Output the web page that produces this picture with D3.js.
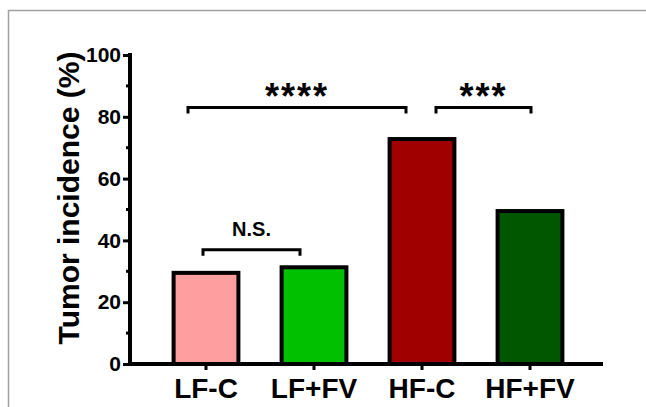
<!DOCTYPE html>
<html>
<head>
<meta charset="utf-8">
<script src="https://cdn.jsdelivr.net/npm/d3@7"></script>
<style>
  html, body { margin: 0; padding: 0; background: #fff; }
  svg text { font-family: "Liberation Sans", Arial, sans-serif; }
</style>
</head>
<body>
<div id="chart"></div>
<script>
const groups = ['LF-C', 'LF+FV', 'HF-C', 'HF+FV'];
const incidence = [29.5, 31.3, 72.8, 49.5];
const barColors = ['#ff9e9e', '#00c000', '#a00000', '#005700'];
const yTicks = [0, 20, 40, 60, 80, 100];
const yMinorTicks = [10, 30, 50, 70, 90];

// significance brackets: [from, to, height (%), label]
const brackets = [
  ['LF-C', 'LF+FV', 37, 'N.S.'],
  ['LF-C', 'HF-C', 83, '****'],
  ['HF-C', 'HF+FV', 83, '***']
];

const width = 646, height = 407;

const svg = d3.select('#chart').append('svg')
  .attr('width', width)
  .attr('height', height);

// outer frame
svg.append('rect')
  .attr('x', 8.5).attr('y', 10.5)
  .attr('width', 700).attr('height', 500)
  .attr('fill', 'none')
  .attr('stroke', '#a0a0a0')
  .attr('stroke-width', 1.5);

let x = d3.scaleBand()
  .domain(groups)
  .range([152, 584])
  .paddingInner(0.4)
  .paddingOuter(0.2);

let y = d3.scaleLinear()
  .domain([0, 100])
  .range([364, 55]);

let data = groups.map((g, i) => ({group: g, value: incidence[i], color: barColors[i]}));

svg.append('g')
  .selectAll('rect')
  .data(data)
  .join('rect')
  .attr('x', d => x(d.group))
  .attr('width', x.bandwidth())
  .attr('y', d => y(d.value))
  .attr('height', d => y(0) - y(d.value))
  .attr('fill', d => d.color)
  .attr('stroke', '#000')
  .attr('stroke-width', 4);

// y axis
let yAxis = svg.append('g')
  .attr('transform', 'translate(130,0)')
  .call(d3.axisLeft(y).tickValues(yTicks).tickSize(7).tickSizeOuter(0).tickPadding(2));
yAxis.select('.domain').attr('stroke-width', 4).attr('d', `M0,${y(100) - 2}V${y(0) + 2}`);
yAxis.selectAll('.tick line').attr('stroke-width', 3);
yAxis.selectAll('.tick text')
  .attr('font-size', 21)
  .attr('font-weight', 'bold')
  .attr('fill', '#000');

svg.append('g')
  .attr('transform', 'translate(130,0)')
  .selectAll('line')
  .data(yMinorTicks)
  .join('line')
  .attr('x1', -4).attr('x2', 0)
  .attr('y1', d => y(d)).attr('y2', d => y(d))
  .attr('stroke', '#000')
  .attr('stroke-width', 3);

// x axis
let xAxis = svg.append('g')
  .attr('transform', `translate(0,${y(0)})`)
  .call(d3.axisBottom(x).tickSize(6).tickSizeOuter(0).tickPadding(8));
xAxis.select('.domain').attr('stroke-width', 4).attr('d', 'M128,0H603');
xAxis.selectAll('.tick line').attr('stroke-width', 3);
xAxis.selectAll('.tick text')
  .attr('font-size', 28)
  .attr('font-weight', 'bold')
  .attr('fill', '#000');

// y title
svg.append('text')
  .attr('transform', 'translate(79,198) rotate(-90)')
  .attr('text-anchor', 'middle')
  .attr('font-size', 30)
  .attr('font-weight', 'bold')
  .text('Tumor incidence (%)');

// brackets
const bracketEnds = {'N.S.': [-3, -14], '****': [-18, -16], '***': [14, 1]};
let center = g => x(g) + x.bandwidth() / 2;

brackets.forEach(([a, b, level, label]) => {
  let [oa, ob] = bracketEnds[label];
  let x1 = center(a) + oa, x2 = center(b) + ob, yy = y(level);
  svg.append('path')
    .attr('d', `M${x1},${yy + 6}V${yy}H${x2}V${yy + 6}`)
    .attr('fill', 'none')
    .attr('stroke', '#000')
    .attr('stroke-width', 3);
  let stars = label.startsWith('*');
  svg.append('text')
    .attr('x', (x1 + x2) / 2)
    .attr('y', stars ? yy + 1 : yy - 14)
    .attr('text-anchor', 'middle')
    .attr('font-size', stars ? 36 : 20)
    .attr('font-weight', 'bold')
    .attr('letter-spacing', stars ? 2 : 0)
    .text(label);
});
</script>
</body>
</html>
